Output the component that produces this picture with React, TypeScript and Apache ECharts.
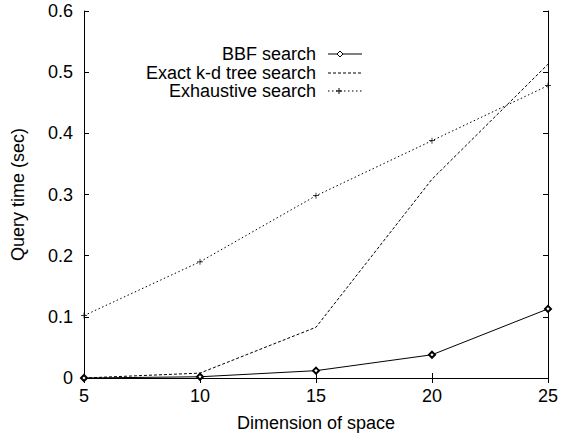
import React, { useEffect, useRef } from "react";
import * as echarts from "echarts";

const dims = [5, 10, 15, 20, 25];
const bbf = [0.0, 0.002, 0.012, 0.038, 0.113];
const kdTree = [0.0, 0.008, 0.083, 0.325, 0.513];
const exhaustive = [0.102, 0.19, 0.298, 0.388, 0.478];
const seriesNames = ["BBF search", "Exact k-d tree search", "Exhaustive search"];

const FONT = "'Liberation Sans', Arial, Helvetica, sans-serif";
const PLUS = "path://M-0.12,-1H0.12V-0.12H1V0.12H0.12V1H-0.12V0.12H-1V-0.12H-0.12Z";

export default function App() {
  const ref = useRef<HTMLDivElement>(null);
  useEffect(() => {
    const chart = echarts.init(ref.current!, null, { renderer: "svg" });
    const pairs = (ys: number[]) => dims.map((d, i) => [d, ys[i]]);
    const axisCommon = {
      axisLine: { show: true, lineStyle: { color: "#000", width: 1 } },
      axisTick: { show: true, inside: true, length: 5, lineStyle: { color: "#000" } },
      splitLine: { show: false },
    };
    const legendX = 316;
    const legendY = [54, 73, 91];
    const graphic: any[] = [];
    seriesNames.forEach((n, i) => {
      graphic.push({
        type: "text",
        x: legendX,
        y: legendY[i],
        style: { text: n, font: `18px ${FONT}`, fill: "#000", align: "right", verticalAlign: "middle" },
      });
    });
    graphic.push({ type: "line", shape: { x1: 328, y1: legendY[0], x2: 362, y2: legendY[0] }, style: { stroke: "#000", lineWidth: 1 } });
    graphic.push({
      type: "polygon",
      shape: { points: [[340, legendY[0] - 3], [343, legendY[0]], [340, legendY[0] + 3], [337, legendY[0]]] },
      style: { fill: "#fff", stroke: "#000", lineWidth: 1 },
    });
    graphic.push({ type: "line", shape: { x1: 328, y1: legendY[1], x2: 362, y2: legendY[1] }, style: { stroke: "#000", lineWidth: 1, lineDash: [3, 2] } });
    graphic.push({ type: "line", shape: { x1: 328, y1: legendY[2], x2: 362, y2: legendY[2] }, style: { stroke: "#000", lineWidth: 1, lineDash: [1.5, 2.5] } });
    graphic.push({ type: "line", shape: { x1: 339, y1: legendY[2] - 3, x2: 339, y2: legendY[2] + 3 }, style: { stroke: "#000", lineWidth: 1 } });
    graphic.push({ type: "line", shape: { x1: 336, y1: legendY[2], x2: 342, y2: legendY[2] }, style: { stroke: "#000", lineWidth: 1 } });

    chart.setOption({
      animation: false,
      backgroundColor: "#fff",
      textStyle: { fontFamily: FONT },
      grid: { left: 84, top: 11, right: 11, bottom: 59, containLabel: false },
      xAxis: [
        {
          type: "value",
          min: 5,
          max: 25,
          interval: 5,
          position: "bottom",
          name: "Dimension of space",
          nameLocation: "middle",
          nameGap: 36,
          nameTextStyle: { fontSize: 18, color: "#000", fontFamily: FONT },
          axisLabel: { fontSize: 18, color: "#000", margin: 9, fontFamily: FONT },
          ...axisCommon,
        },
        {
          type: "value",
          min: 5,
          max: 25,
          interval: 5,
          position: "top",
          axisLabel: { show: false },
          ...axisCommon,
        },
      ],
      yAxis: [
        {
          type: "value",
          min: 0,
          max: 0.6,
          interval: 0.1,
          position: "left",
          name: "Query time (sec)",
          nameLocation: "middle",
          nameGap: 57,
          nameTextStyle: { fontSize: 18, color: "#000", fontFamily: FONT },
          axisLabel: { fontSize: 18, color: "#000", margin: 11, fontFamily: FONT, formatter: (v: number) => (v === 0 ? "0" : v.toFixed(1)) },
          ...axisCommon,
        },
        {
          type: "value",
          min: 0,
          max: 0.6,
          interval: 0.1,
          position: "right",
          axisLabel: { show: false },
          ...axisCommon,
        },
      ],
      series: [
        {
          name: seriesNames[0],
          type: "line",
          data: pairs(bbf),
          symbol: "emptyDiamond",
          symbolSize: 6,
          showAllSymbol: true,
          lineStyle: { color: "#000", width: 1, type: "solid" },
          itemStyle: { color: "#000", borderColor: "#000", borderWidth: 1 },
          z: 3,
        },
        {
          name: seriesNames[1],
          type: "line",
          data: pairs(kdTree),
          symbol: "none",
          lineStyle: { color: "#000", width: 1, type: [3, 2] },
          itemStyle: { color: "#000" },
          z: 2,
        },
        {
          name: seriesNames[2],
          type: "line",
          data: pairs(exhaustive),
          symbol: PLUS,
          symbolSize: 6,
          showAllSymbol: true,
          lineStyle: { color: "#000", width: 1, type: [1.5, 2.5] },
          itemStyle: { color: "#000" },
          z: 2,
        },
      ],
      graphic,
    });
    return () => chart.dispose();
  }, []);
  return <div ref={ref} style={{ position: "fixed", left: 0, top: 0, width: 561, height: 437 }} />;
}
